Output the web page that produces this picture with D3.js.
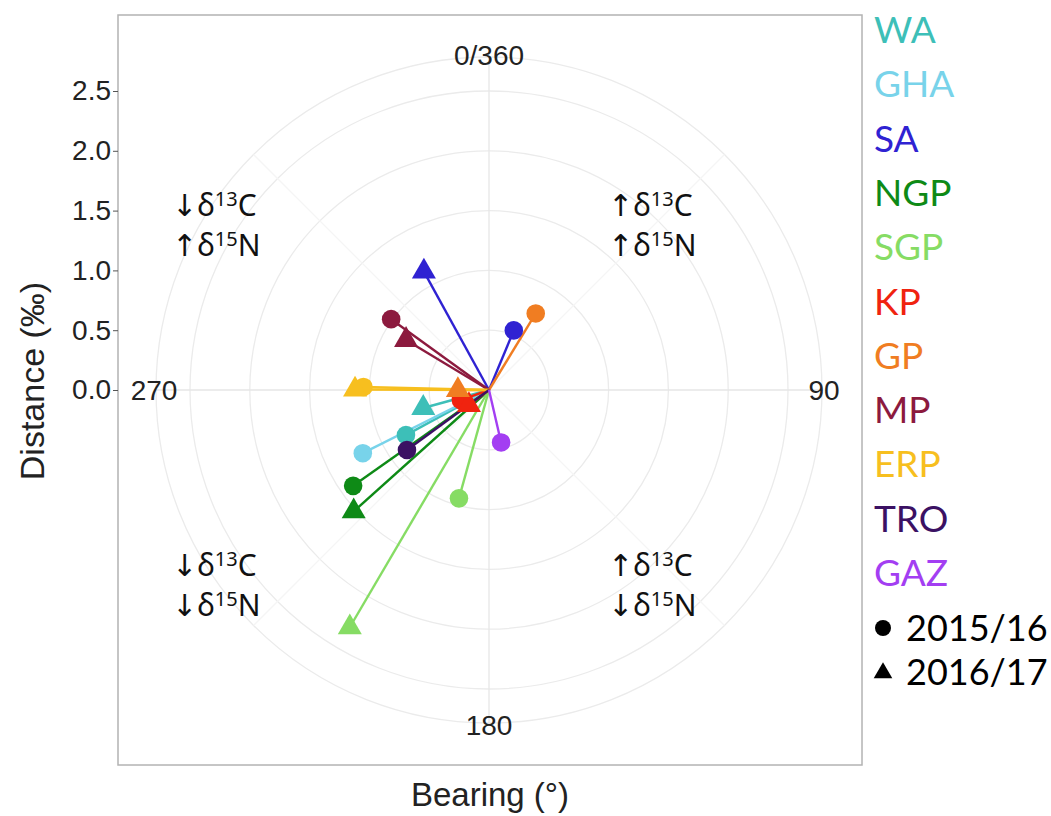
<!DOCTYPE html>
<meta charset="utf-8">
<style>
body { margin: 0; background: #fff; }
.grid { fill: none; stroke: #ebebeb; stroke-width: 1.3px; }
.axis-text { font-family: "Liberation Sans", Arial, sans-serif; fill: #222; }
</style>
<body>
<script src="https://d3js.org/d3.v7.min.js"></script>
<script>

// groups and colours (legend order)
var groups = ["WA", "GHA", "SA", "NGP", "SGP", "KP", "GP", "MP", "ERP", "TRO", "GAZ"];
var colors = ["#3dbfb8", "#78d3ea", "#2f22d2", "#0e8a16", "#86dc64", "#f0230f", "#f07d22", "#8c1a3e", "#f7bf1f", "#3b1163", "#a33ef2"];

// 2015/16 (circles): bearing in degrees, distance in permil
var bearing1516  = [241.5, 243.4, 22.6, 234.8, 195.5, 250.3, 31.4, 305.9, 271.4, 233.8, 167.0];
var distance1516 = [0.79, 1.18, 0.54, 1.39, 0.94, 0.25, 0.75, 1.01, 1.05, 0.85, 0.45];

// 2016/17 (triangles), null = no value shown
var bearing1617  = [254.7, null, 331.2, 228.1, 210.4, 233.0, 270.0, 301.1, 270.2, null, null];
var distance1617 = [0.57, null, 1.13, 1.52, 2.30, 0.21, 0.26, 0.81, 1.12, null, null];

var rTicks = [0, 0.5, 1.0, 1.5, 2.0, 2.5];
var thetaLabels = [{a: 0, t: "0/360"}, {a: 90, t: "90"}, {a: 180, t: "180"}, {a: 270, t: "270"}];
var spokeAngles = [0, 45, 90, 135, 180, 225, 270, 315];
var years = ["2015/16", "2016/17"];

// layout
var panel = {x0: 118, y0: 15, x1: 862, y1: 765};
var cx = 489, cy = 390, outerR = 333;

var svg = d3.select("body").append("svg")
    .attr("width", 1051)
    .attr("height", 816);

var r = d3.scaleLinear().domain([0, 2.5]).range([0, 299]);

function px(b, d) { return cx + r(d) * Math.sin(b * Math.PI / 180); }
function py(b, d) { return cy - r(d) * Math.cos(b * Math.PI / 180); }

// grid circles
svg.selectAll("circle.ring")
    .data(rTicks.filter(function(d) { return d > 0; }))
  .enter().append("circle")
    .attr("class", "grid")
    .attr("cx", cx).attr("cy", cy)
    .attr("r", function(d) { return r(d); });
svg.append("circle").attr("class", "grid")
    .attr("cx", cx).attr("cy", cy).attr("r", outerR);

// spokes
svg.selectAll("line.spoke")
    .data(spokeAngles)
  .enter().append("line")
    .attr("class", "grid")
    .style("stroke", function(d) { return d % 90 === 0 ? "#e6e6e6" : "#f5f5f5"; })
    .attr("x1", cx).attr("y1", cy)
    .attr("x2", function(d) { return cx + outerR * Math.sin(d * Math.PI / 180); })
    .attr("y2", function(d) { return cy - outerR * Math.cos(d * Math.PI / 180); });

// panel border
svg.append("rect")
    .attr("x", panel.x0).attr("y", panel.y0)
    .attr("width", panel.x1 - panel.x0).attr("height", panel.y1 - panel.y0)
    .attr("fill", "none").attr("stroke", "#b3b3b3").attr("stroke-width", 1.5);

// radial axis on the left
var yAxis = d3.axisLeft(d3.scaleLinear().domain([0, 2.5]).range([cy, cy - 299]))
    .tickValues(rTicks)
    .tickFormat(d3.format(".1f"))
    .tickSize(5)
    .tickPadding(2);
var ya = svg.append("g")
    .attr("transform", "translate(" + panel.x0 + ",0)")
    .call(yAxis);
ya.select(".domain").remove();
ya.selectAll("line").attr("stroke", "#555");
ya.selectAll("text")
    .attr("class", "axis-text")
    .style("font-size", "28px")
    .attr("fill", "#222");

// theta labels
svg.selectAll("text.theta")
    .data(thetaLabels)
  .enter().append("text")
    .attr("class", "axis-text")
    .attr("x", function(d) { return cx + (outerR + 2) * Math.sin(d.a * Math.PI / 180); })
    .attr("y", function(d) { return cy - (outerR + 2) * Math.cos(d.a * Math.PI / 180); })
    .attr("text-anchor", "middle")
    .attr("dy", "0.36em")
    .style("font-size", "28px")
    .text(function(d) { return d.t; });

// quadrant annotations
var notes = [
  {x: 172, y: 216, arrows: ["↓", "↑"]},
  {x: 608, y: 216, arrows: ["↑", "↑"]},
  {x: 172, y: 576, arrows: ["↓", "↓"]},
  {x: 608, y: 576, arrows: ["↑", "↓"]}
];
notes.forEach(function(n) {
  [["13", "C"], ["15", "N"]].forEach(function(iso, i) {
    var t = svg.append("text")
        .attr("x", n.x).attr("y", n.y + i * 40)
        .style("font-family", "'Noto Sans', 'DejaVu Sans', sans-serif")
        .style("font-size", "30px")
        .attr("fill", "#111");
    t.append("tspan").text(n.arrows[i] + "δ");
    t.append("tspan").attr("dy", -10).style("font-size", "20px").text(iso[0]);
    t.append("tspan").attr("dy", 10).text(iso[1]);
  });
});

// segments and markers
var tri = d3.symbol().type(d3.symbolTriangle).size(250);

groups.forEach(function(g, i) {
  if (bearing1617[i] !== null) {
    svg.append("line")
        .attr("x1", cx).attr("y1", cy)
        .attr("x2", px(bearing1617[i], distance1617[i]))
        .attr("y2", py(bearing1617[i], distance1617[i]))
        .attr("stroke", colors[i]).attr("stroke-width", 2.4);
  }
  svg.append("line")
      .attr("x1", cx).attr("y1", cy)
      .attr("x2", px(bearing1516[i], distance1516[i]))
      .attr("y2", py(bearing1516[i], distance1516[i]))
      .attr("stroke", colors[i]).attr("stroke-width", 2.4);
});

groups.forEach(function(g, i) {
  svg.append("circle")
      .attr("cx", px(bearing1516[i], distance1516[i]))
      .attr("cy", py(bearing1516[i], distance1516[i]))
      .attr("r", 9.3)
      .attr("fill", colors[i]);
  if (bearing1617[i] !== null) {
    svg.append("path")
        .attr("d", tri)
        .attr("transform", "translate(" + px(bearing1617[i], distance1617[i]) + "," + py(bearing1617[i], distance1617[i]) + ")")
        .attr("fill", colors[i]);
  }
});

// axis titles
svg.append("text")
    .attr("class", "axis-text")
    .attr("transform", "translate(44,381) rotate(-90)")
    .attr("text-anchor", "middle")
    .style("font-size", "34px")
    .text("Distance (‰)");

svg.append("text")
    .attr("class", "axis-text")
    .attr("x", 490).attr("y", 806)
    .attr("text-anchor", "middle")
    .style("font-size", "33px")
    .text("Bearing (°)");

// legend
var legend = svg.append("g").attr("transform", "translate(874,0)");
legend.selectAll("text.grp")
    .data(groups)
  .enter().append("text")
    .attr("x", 0)
    .attr("y", function(d, i) { return 43 + i * 54.3; })
    .style("font-family", "Lato, 'Open Sans', sans-serif")
    .style("font-size", "37px")
    .attr("fill", function(d, i) { return colors[i]; })
    .text(function(d) { return d; });

years.forEach(function(y, i) {
  var yy = 628 + i * 44;
  if (i === 0) {
    legend.append("circle").attr("cx", 9).attr("cy", yy).attr("r", 8).attr("fill", "#000");
  } else {
    legend.append("path").attr("d", d3.symbol().type(d3.symbolTriangle).size(150))
        .attr("transform", "translate(9," + (yy + 1) + ")").attr("fill", "#000");
  }
  legend.append("text")
      .attr("x", 32).attr("y", yy + 13)
      .style("font-family", "Lato, 'Open Sans', sans-serif")
      .style("font-size", "36px")
      .attr("fill", "#000")
      .text(y);
});

</script>
</body>
